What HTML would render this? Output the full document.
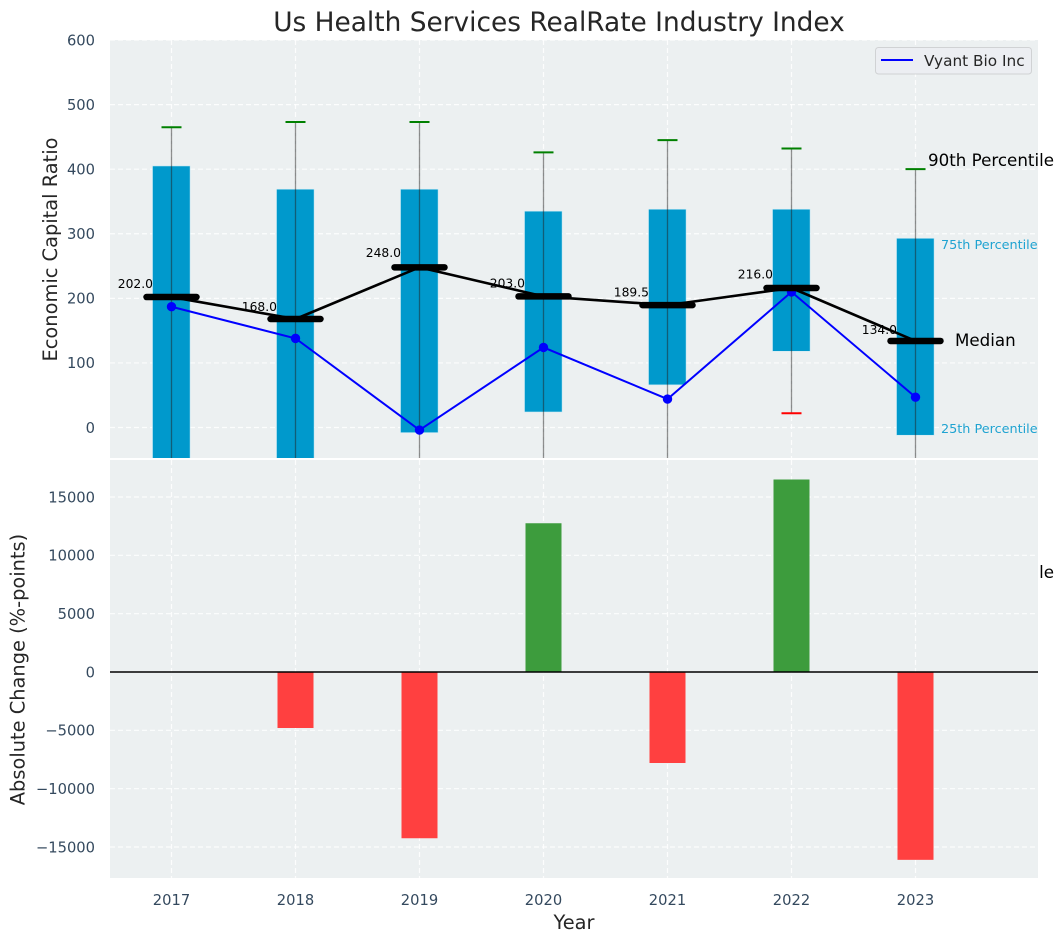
<!DOCTYPE html>
<html>
<head>
<meta charset="utf-8">
<title>Us Health Services RealRate Industry Index</title>
<style>
html,body{margin:0;padding:0;background:#fff;}
svg{display:block;font-family:"DejaVu Sans","Liberation Sans",sans-serif;}
</style>
</head>
<body>
<svg id="chart" width="1063" height="942" viewBox="0 0 1063 942" xmlns="http://www.w3.org/2000/svg"></svg>
<script>
const years = [2017, 2018, 2019, 2020, 2021, 2022, 2023];
const q75 = [405, 369, 369, 335, 338, 338, 293];
const q25 = [-90, -70, -8, 24, 66, 118, -12];
const p90 = [465, 473, 473, 426, 445, 432, 400];
const p10 = [-180, -170, -160, -150, -120, 22, -224];
const medians = [202, 168, 248, 203, 189.5, 216, 134];
const vyant = [187, 138, -4, 124, 44, 210, 47];
const changes = [0, -4800, -14250, 12750, -7800, 16500, -16100];
const upperTicks = [0, 100, 200, 300, 400, 500, 600];
const lowerTicks = [-15000, -10000, -5000, 0, 5000, 10000, 15000];

const NS = 'http://www.w3.org/2000/svg';
const svg = document.getElementById('chart');
const LEFT = 110, RIGHT = 1038;
const TOP1 = 40, BOT1 = 458, TOP2 = 460, BOT2 = 878;
function xAxis(v) { return 171.5 + (v - 2017) * 124; }
function yUpper(v) { return 427.5 - v * 0.6458; }
function yLower(v) { return 672 - v * 175 / 15000; }
function make(tag, attrs, parent) {
  const el = document.createElementNS(NS, tag);
  for (const k in attrs) el.setAttribute(k, attrs[k]);
  (parent || svg).appendChild(el);
  return el;
}
function fmt(v) { return String(v).replace('-', '\u2212'); }

const defs = make('defs', {});
const clip1 = make('clipPath', { id: 'clip-upper' }, defs);
make('rect', { x: LEFT, y: TOP1, width: RIGHT - LEFT, height: BOT1 - TOP1 }, clip1);

/* upper panel */
const upperBg = make('rect', { x: LEFT, y: TOP1, width: RIGHT - LEFT, height: BOT1 - TOP1, fill: '#ecf0f1' });



const upper = make('g', { 'clip-path': 'url(#clip-upper)' });



upperTicks.forEach(function (t) {
  const g = make('line', { x1: LEFT, x2: RIGHT, y1: yUpper(t), y2: yUpper(t), stroke: '#fff', 'stroke-width': 1.2, 'stroke-dasharray': '5 3', 'stroke-opacity': 0.85 }, upper);
  
  
});
years.forEach(function (yr) {
  const g = make('line', { x1: xAxis(yr), x2: xAxis(yr), y1: TOP1, y2: BOT1, stroke: '#fff', 'stroke-width': 1.2, 'stroke-dasharray': '5 3', 'stroke-opacity': 0.85 }, upper);
  
  
});

years.forEach(function (yr, i) {
  const cx = xAxis(yr);
  const box = make('rect', { x: cx - 19, y: yUpper(q75[i]), width: 37.6, height: yUpper(q25[i]) - yUpper(q75[i]), fill: '#0099cc', stroke: '#cdebf5', 'stroke-width': 0.6 }, upper);
  
  
  const wh = make('line', { x1: cx, x2: cx, y1: yUpper(p90[i]), y2: yUpper(p10[i]), stroke: '#222', 'stroke-opacity': 0.5, 'stroke-width': 1.3 }, upper);
  
  
  const capHi = make('line', { x1: cx - 10, x2: cx + 10, y1: yUpper(p90[i]), y2: yUpper(p90[i]), stroke: '#008000', 'stroke-width': 2 }, upper);
  
  
  const capLo = make('line', { x1: cx - 10, x2: cx + 10, y1: yUpper(p10[i]), y2: yUpper(p10[i]), stroke: '#ff0000', 'stroke-width': 2 }, upper);
  
  
});

const vyantPts = years.map(function (yr, i) { return xAxis(yr) + ',' + yUpper(vyant[i]); }).join(' ');
const vyantLine = make('polyline', { points: vyantPts, fill: 'none', stroke: '#0000ff', 'stroke-width': 2 }, upper);


years.forEach(function (yr, i) {
  const dot = make('circle', { cx: xAxis(yr), cy: yUpper(vyant[i]), r: 4.7, fill: '#0000ff' }, upper);
  
  
});

const medPts = years.map(function (yr, i) { return xAxis(yr) + ',' + yUpper(medians[i]); }).join(' ');
const medLine = make('polyline', { points: medPts, fill: 'none', stroke: '#000', 'stroke-width': 2.6 }, upper);


years.forEach(function (yr, i) {
  const cx = xAxis(yr);
  const m = make('line', { x1: cx - 25, x2: cx + 25, y1: yUpper(medians[i]), y2: yUpper(medians[i]), stroke: '#000', 'stroke-width': 6.5, 'stroke-linecap': 'round' }, upper);
  
  
});

years.forEach(function (yr, i) {
  const t = make('text', { x: xAxis(yr) - 18.5, y: yUpper(medians[i] * 1.05) - 2.5, 'text-anchor': 'end', 'font-size': 12.3, fill: '#000' });
  t.textContent = medians[i].toFixed(1);
  
  
});

/* annotations */
const a90 = make('text', { x: 928, y: 166, 'font-size': 16.7, fill: '#000' });
a90.textContent = '90th Percentile';


const a75 = make('text', { x: 941, y: 249, 'font-size': 12.8, fill: '#1fa3d1' });
a75.textContent = '75th Percentile';


const aMed = make('text', { x: 955, y: 346, 'font-size': 16.7, fill: '#000' });
aMed.textContent = 'Median';


const a25 = make('text', { x: 941, y: 433, 'font-size': 12.8, fill: '#1fa3d1' });
a25.textContent = '25th Percentile';


const a10 = make('text', { x: 928, y: 578, 'font-size': 16.7, fill: '#000' });
a10.textContent = '10th Percentile';



/* lower panel (drawn over the 10th percentile annotation) */
const lowerBg = make('rect', { x: LEFT, y: TOP2, width: RIGHT - LEFT, height: BOT2 - TOP2, fill: '#ecf0f1' });



lowerTicks.forEach(function (t) {
  const g = make('line', { x1: LEFT, x2: RIGHT, y1: yLower(t), y2: yLower(t), stroke: '#fff', 'stroke-width': 1.2, 'stroke-dasharray': '5 3', 'stroke-opacity': 0.85 });
  
  
});
years.forEach(function (yr) {
  const g = make('line', { x1: xAxis(yr), x2: xAxis(yr), y1: TOP2, y2: BOT2, stroke: '#fff', 'stroke-width': 1.2, 'stroke-dasharray': '5 3', 'stroke-opacity': 0.85 });
  
  
});
years.forEach(function (yr, i) {
  const v = changes[i];
  if (v === 0) return;
  const y0 = yLower(Math.max(v, 0));
  const y1 = yLower(Math.min(v, 0));
  const b = make('rect', { x: xAxis(yr) - 18, y: y0, width: 36, height: y1 - y0, fill: v > 0 ? '#3d9c3d' : '#ff4040' });
  
  
});
const zero = make('line', { x1: LEFT, x2: RIGHT, y1: yLower(0), y2: yLower(0), stroke: '#000', 'stroke-width': 1.5 });



/* tick labels */
upperTicks.forEach(function (t) {
  const el = make('text', { x: 95, y: yUpper(t) + 5.3, 'text-anchor': 'end', 'font-size': 14.7, fill: '#34495e' });
  el.textContent = fmt(t);
  
  
});
lowerTicks.forEach(function (t) {
  const el = make('text', { x: 95, y: yLower(t) + 5.3, 'text-anchor': 'end', 'font-size': 14.7, fill: '#34495e' });
  el.textContent = fmt(t);
  
  
});
years.forEach(function (yr) {
  const el = make('text', { x: xAxis(yr), y: 905, 'text-anchor': 'middle', 'font-size': 14.7, fill: '#34495e' });
  el.textContent = String(yr);
  
  
});

/* titles */
const title = make('text', { x: 559, y: 31, 'text-anchor': 'middle', 'font-size': 26.4, fill: '#262626' });
title.textContent = 'Us Health Services RealRate Industry Index';


const yl1 = make('text', { transform: 'translate(57,249.5) rotate(-90)', 'text-anchor': 'middle', 'font-size': 19.4, fill: '#262626' });
yl1.textContent = 'Economic Capital Ratio';


const yl2 = make('text', { transform: 'translate(24.5,669.5) rotate(-90)', 'text-anchor': 'middle', 'font-size': 19.4, fill: '#262626' });
yl2.textContent = 'Absolute Change (%-points)';


const xl = make('text', { x: 574, y: 929, 'text-anchor': 'middle', 'font-size': 19.4, fill: '#262626' });
xl.textContent = 'Year';



/* legend */
const legend = make('g', {});


make('rect', { x: 875.5, y: 47.5, width: 156, height: 26.5, rx: 3, ry: 3, fill: '#eceef2', stroke: '#d0d2d4', 'stroke-width': 1 }, legend);
make('line', { x1: 881, x2: 913, y1: 60, y2: 60, stroke: '#0000ff', 'stroke-width': 2 }, legend);
const lt = make('text', { x: 924, y: 66, 'font-size': 15.3, fill: '#262626' }, legend);
lt.textContent = 'Vyant Bio Inc';


</script>
</body>
</html>
